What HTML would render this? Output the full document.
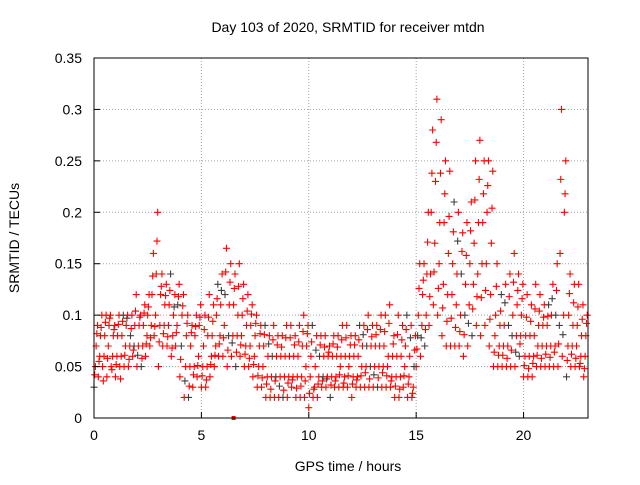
<!DOCTYPE html>
<html><head><meta charset="utf-8"><style>
body{margin:0;background:#fff;}
svg text{font-family:"Liberation Sans",sans-serif;font-size:14px;fill:#000;}
</style></head><body>
<svg id="chart" width="640" height="480">
<text x="348" y="32" text-anchor="middle">Day 103 of 2020, SRMTID for receiver mtdn</text>
<text x="348" y="471" text-anchor="middle">GPS time / hours</text>
<text transform="translate(19,238) rotate(-90)" text-anchor="middle">SRMTID / TECUs</text>
<g id="grid"></g><g id="marks"></g>
<rect x="94" y="58" width="494" height="360" fill="none" stroke="#000"/>
<g id="ticks"></g>
</svg>
<script>
const xTicks=[0,5,10,15,20];
const yTicks=[0,0.05,0.1,0.15,0.2,0.25,0.3,0.35];
const yTickLabels=["0","0.05","0.1","0.15","0.2","0.25","0.3","0.35"];
const step=0.2;
const low=[.03,.04,.05,.04,.05,.04,.05,.05,.05,.06,.05,.05,.06,.07,.08,.05,.07,.07,.06,.07,.04,.02,.02,.03,.04,.03,.03,.04,.05,.06,.06,.05,.06,.05,.06,.05,.05,.04,.03,.03,.02,.02,.02,.02,.02,.02,.03,.02,.02,.02,.01,.02,.02,.03,.03,.02,.03,.03,.03,.03,.02,.03,.03,.03,.03,.03,.03,.03,.03,.03,.02,.02,.03,.02,.02,.05,.06,.07,.09,.11,.10,.08,.07,.07,.07,.07,.06,.07,.08,.09,.08,.09,.07,.05,.05,.05,.05,.05,.05,.06,.04,.04,.04,.05,.05,.05,.05,.05,.05,.06,.04,.05,.05,.05,.04];
const lowMid=[.042,.055,.036,.058,.047,.052,.038,.061,.057,.066,.061,.058,.072,.078,.089,.074,.082,.079,.068,.083,.057,.036,.031,.042,.051,.041,.037,.052,.061,.072,.078,.066,.073,.064,.071,.062,.058,.052,.041,.039,.033,.028,.036,.031,.027,.034,.037,.029,.031,.036,.024,.028,.033,.036,.038,.032,.036,.042,.034,.041,.033,.037,.041,.044,.038,.042,.039,.044,.041,.036,.031,.028,.041,.033,.024,.067,.078,.086,.118,.142,.126,.107,.094,.097,.088,.084,.081,.092,.106,.118,.117,.124,.096,.064,.061,.061,.058,.066,.064,.072,.051,.048,.053,.061,.058,.062,.059,.064,.072,.081,.056,.062,.058,.053,.048];
const mid1=[.05,.06,.06,.07,.06,.06,.06,.07,.07,.07,.07,.07,.08,.09,.10,.09,.09,.09,.08,.09,.07,.05,.05,.05,.06,.05,.05,.06,.07,.08,.09,.08,.08,.08,.08,.07,.07,.06,.05,.05,.04,.04,.04,.04,.04,.04,.04,.04,.04,.05,.04,.03,.04,.04,.04,.04,.04,.05,.04,.05,.04,.04,.05,.05,.05,.05,.05,.05,.05,.04,.04,.04,.05,.04,.03,.08,.09,.10,.14,.17,.15,.13,.12,.12,.11,.10,.10,.11,.13,.14,.15,.15,.12,.08,.07,.07,.07,.08,.08,.08,.06,.06,.06,.07,.07,.07,.07,.07,.09,.10,.07,.07,.07,.06,.06];
const mid2=[.07,.08,.08,.09,.08,.08,.08,.09,.08,.09,.09,.09,.10,.12,.14,.12,.11,.11,.10,.11,.10,.08,.07,.08,.09,.07,.08,.08,.10,.11,.12,.11,.11,.10,.10,.09,.09,.08,.07,.07,.06,.06,.06,.06,.06,.06,.06,.06,.07,.07,.06,.05,.06,.06,.06,.06,.06,.06,.06,.06,.06,.06,.07,.07,.07,.07,.07,.07,.06,.06,.06,.06,.07,.06,.05,.10,.12,.14,.20,.23,.19,.19,.16,.15,.14,.14,.13,.15,.17,.19,.19,.20,.17,.10,.09,.09,.09,.10,.11,.10,.08,.08,.08,.09,.09,.09,.10,.10,.16,.20,.10,.09,.09,.08,.08];
const midHigh=[.082,.088,.093,.097,.086,.091,.094,.097,.087,.104,.098,.102,.108,.138,.172,.128,.119,.124,.108,.118,.109,.092,.083,.089,.098,.086,.098,.094,.116,.124,.142,.132,.126,.128,.116,.104,.101,.092,.082,.081,.072,.076,.071,.069,.078,.078,.071,.074,.084,.082,.074,.066,.071,.069,.064,.072,.069,.076,.078,.071,.071,.076,.081,.086,.079,.081,.086,.084,.092,.072,.081,.076,.086,.078,.066,.126,.134,.171,.238,.268,.238,.218,.196,.181,.172,.162,.158,.182,.212,.232,.218,.226,.204,.128,.104,.112,.118,.132,.124,.116,.098,.094,.106,.104,.098,.099,.116,.124,.232,.218,.121,.112,.108,.096,.092];
const high=[.09,.10,.10,.10,.09,.10,.10,.10,.10,.12,.10,.11,.12,.16,.20,.14,.13,.14,.12,.13,.12,.10,.09,.10,.11,.10,.12,.11,.13,.14,.165,.15,.14,.15,.13,.12,.11,.10,.09,.09,.08,.09,.08,.08,.09,.09,.08,.09,.10,.09,.09,.08,.08,.08,.07,.08,.08,.09,.09,.08,.08,.09,.09,.10,.09,.09,.10,.10,.11,.08,.10,.09,.10,.09,.08,.15,.15,.20,.28,.31,.29,.25,.24,.21,.20,.18,.19,.21,.25,.27,.25,.25,.24,.15,.12,.13,.14,.16,.14,.13,.12,.11,.13,.12,.11,.11,.13,.15,.30,.25,.14,.13,.13,.11,.10];
const seriesList=[low,lowMid,mid1,mid2,midHigh,high];
const X=t=>94+t*(494/23);
const Y=v=>418-v*(360/0.35);
const NS="http://www.w3.org/2000/svg";
const grid=document.getElementById('grid'),ticks=document.getElementById('ticks'),marks=document.getElementById('marks');
function mk(tag,attrs,parent){const e=document.createElementNS(NS,tag);for(const k in attrs)e.setAttribute(k,attrs[k]);parent.appendChild(e);return e;}
xTicks.forEach(t=>{
 const x=X(t);
 if(t>0){const g=mk('line',{x1:x,x2:x,y1:58,y2:418,stroke:'#a0a0a0','stroke-dasharray':'1,2'},grid);
 
 }
 const tk=mk('line',{x1:x,x2:x,y1:418,y2:412,stroke:'#000'},ticks);
 
 
 const l=mk('text',{x:x,y:440,'text-anchor':'middle'},ticks);l.textContent=t;
 
 
});
yTicks.forEach((v,i)=>{
 const y=Y(v);
 if(i>0&&i<yTicks.length-1){const g=mk('line',{x1:94,x2:588,y1:y,y2:y,stroke:'#a0a0a0','stroke-dasharray':'1,2'},grid);
 
 }
 const tk=mk('line',{x1:94,x2:100,y1:y,y2:y,stroke:'#000'},ticks);
 
 
 const l=mk('text',{x:82,y:y+5,'text-anchor':'end'},ticks);l.textContent=yTickLabels[i];
 
 
});
seriesList.forEach((arr,k)=>{
 arr.forEach((v,i)=>{
  const t=i*step+k*0.033;
  const x=X(t),y=Y(v);
  const col=(i+k)%11===0?'#404040':'#ff0000';
  const p=mk('path',{d:`M${x-3.5},${y}h7M${x},${y-3.5}v7`,stroke:col,'stroke-width':1.1},marks);
  
  
 });
});
const sq=mk('rect',{x:X(6.5)-2,y:Y(0)-2,width:4,height:4,fill:'#ff0000'},marks);


</script>
</body></html>
